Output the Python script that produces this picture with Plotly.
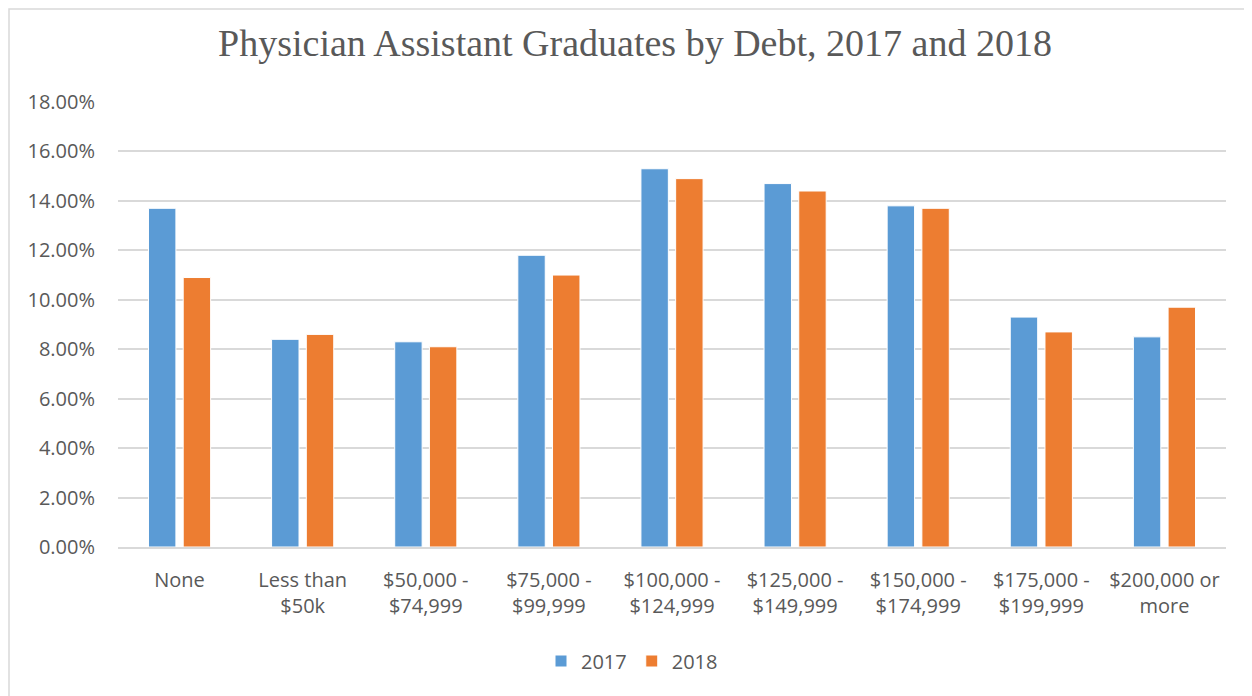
import plotly.graph_objects as go

categories = ["None", "Less than<br>$50k", "$50,000 -<br>$74,999", "$75,000 -<br>$99,999",
              "$100,000 -<br>$124,999", "$125,000 -<br>$149,999", "$150,000 -<br>$174,999",
              "$175,000 -<br>$199,999", "$200,000 or<br>more"]
share_2017 = [0.137, 0.084, 0.083, 0.118, 0.153, 0.147, 0.138, 0.093, 0.085]
share_2018 = [0.109, 0.086, 0.081, 0.110, 0.149, 0.144, 0.137, 0.087, 0.097]

# the page body has an 8px margin, so layout positions are offset by it
OFF = 8
W, H = 1252, 696
L, R, T, B = 118 - OFF, W - (1226 - OFF), 102 - OFF, H - (547 - OFF)
ph = H - T - B
pw = W - L - R

fig = go.Figure()
fig.add_trace(go.Bar(x=categories, y=share_2017, name="2017",
                     marker=dict(color="#5B9BD5", line=dict(color="#ffffff", width=1))))
fig.add_trace(go.Bar(x=categories, y=share_2018, name="2018",
                     marker=dict(color="#ED7D31", line=dict(color="#ffffff", width=1))))

fig.update_layout(
    width=W, height=H,
    margin=dict(l=L, r=R, t=T, b=B),
    paper_bgcolor="white", plot_bgcolor="white",
    barmode="group", bargap=0.436, bargroupgap=0.21,
    font=dict(family="Open Sans", size=20, color="#595959"),
    title=dict(text="Physician Assistant Graduates by Debt, 2017 and 2018",
               x=(635 - OFF) / W, xanchor="center", y=1 - (43 - OFF) / H, yanchor="middle",
               font=dict(family="Liberation Serif", size=38, color="#595959")),
    legend=dict(orientation="h", x=(632 - OFF - L) / pw, xanchor="center",
                y=-(661 - 547) / ph, yanchor="middle",
                font=dict(size=20, color="#595959"), itemwidth=30, traceorder="normal"),
    showlegend=True,
)
fig.update_yaxes(range=[0, 0.18], dtick=0.02, tickformat=".2%",
                 showgrid=True, gridcolor="#d9d9d9", gridwidth=1.5,
                 zeroline=False, showline=False, ticks="", ticklabelstandoff=22)
fig.update_xaxes(showline=True, linecolor="#d9d9d9", linewidth=1.5,
                 ticks="", ticklabelstandoff=14)

# chart border
fig.add_shape(type="rect", xref="paper", yref="paper",
              x0=(1 - L) / pw, x1=(W + 10 - L) / pw,
              y0=-(H + 10 - (H - B)) / ph, y1=((H - B) - 1) / ph,
              line=dict(color="#d9d9d9", width=1.5), layer="below")

fig.write_html("out.html")
